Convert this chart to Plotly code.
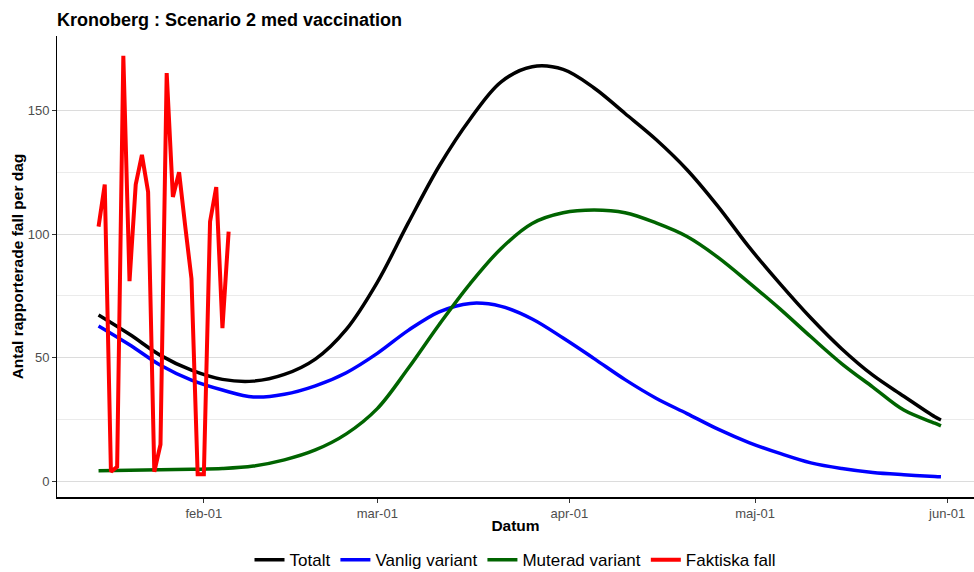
import pandas as pd
import plotly.graph_objects as go

# model curves sampled every 5 days from 2021-01-15, last point 2021-05-31
model_dates = list(pd.date_range("2021-01-15", periods=28, freq="5D")) + [pd.Timestamp("2021-05-31")]
totalt = [67.3, 59.5, 51.0, 45.0, 41.3, 40.6, 43.3, 49.5, 61.5, 80.5, 104.5, 127.5, 146.5, 161.5,
          167.6, 166.5, 159.0, 148.7, 138.2, 126.0, 111.2, 94.8, 80.0, 66.1, 53.6, 43.0, 34.5, 26.2, 24.9]
vanlig = [62.9, 55.3, 47.0, 41.0, 37.0, 34.2, 35.3, 38.7, 44.0, 51.8, 61.1, 68.6, 72.0, 70.8,
          65.7, 58.0, 49.7, 41.2, 33.7, 27.5, 21.2, 15.8, 11.4, 7.6, 5.3, 3.7, 2.8, 2.1, 2.0]
muterad = [4.4, 4.6, 4.8, 5.0, 5.3, 6.3, 8.8, 12.8, 19.3, 29.5, 45.8, 63.5, 80.0, 94.2,
           104.3, 108.6, 109.7, 108.6, 104.5, 99.0, 90.6, 80.4, 69.8, 58.5, 47.6, 38.2, 28.9, 23.6, 22.5]

# reported cases per day
fall_dates = pd.date_range("2021-01-15", "2021-02-05", freq="D")
faktiska = [103, 120, 4, 6, 172, 81, 120, 132, 117, 4, 15, 165, 115, 125, 103, 82,
            3, 3, 105, 119, 62, 101]

tick_vals = ["2021-02-01", "2021-03-01", "2021-04-01", "2021-05-01", "2021-06-01"]
tick_text = ["feb-01", "mar-01", "apr-01", "maj-01", "jun-01"]

FONT = "Liberation Sans, Arial, sans-serif"

fig = go.Figure()
for name, vals, col in [("Totalt", totalt, "black"),
                        ("Vanlig variant", vanlig, "#0000ff"),
                        ("Muterad variant", muterad, "#006400")]:
    fig.add_trace(go.Scatter(x=model_dates, y=vals, mode="lines", name=name,
                             line=dict(color=col, width=3.5, shape="spline", smoothing=1.0)))
fig.add_trace(go.Scatter(x=fall_dates, y=faktiska, mode="lines", name="Faktiska fall",
                         line=dict(color="#ff0000", width=4)))

fig.update_layout(
    width=974, height=572,
    margin=dict(l=57, r=0, t=36, b=75, autoexpand=False),
    paper_bgcolor="white", plot_bgcolor="white",
    font=dict(family=FONT, color="#4d4d4d", size=13),
    title=dict(text="<b>Kronoberg : Scenario 2 med vaccination</b>", x=57 / 974, xanchor="left",
               y=1 - 20 / 572, yanchor="middle", font=dict(size=18, color="black")),
    legend=dict(orientation="h", x=0.5, xanchor="center", y=-0.137, yanchor="middle",
                font=dict(size=17, color="black"), itemwidth=30, tracegroupgap=0),
    showlegend=True,
)
fig.update_xaxes(
    range=["2021-01-08 07:00", "2021-06-05 08:00"],
    tickvals=tick_vals, ticktext=tick_text, automargin=False,
    showgrid=False, zeroline=False,
    showline=True, linecolor="black", linewidth=1.5,
    ticks="outside", ticklen=4, tickcolor="#333333",
    tickfont=dict(size=13, color="#4d4d4d"),
    title=dict(text="<b>Datum</b>", font=dict(size=15.5, color="black"), standoff=0),
)
fig.update_yaxes(
    range=[-6.2, 180], automargin=False,
    tickvals=[0, 50, 100, 150],
    showgrid=True, gridcolor="#dcdcdc", gridwidth=1,
    minor=dict(tickvals=[25, 75, 125], showgrid=True, gridcolor="#ebebeb", gridwidth=1),
    zeroline=False,
    showline=True, linecolor="black", linewidth=1,
    ticks="outside", ticklen=4, tickcolor="#333333",
    tickfont=dict(size=13, color="#4d4d4d"),
    title=dict(text="<b>Antal rapporterade fall per dag</b>", font=dict(size=15.5, color="black"), standoff=0),
)

# drop the default page margin so the figure sits at the window's top-left corner
fig.write_html("out.html", config={"displayModeBar": False},
               post_script="document.body.style.margin='0px';")
